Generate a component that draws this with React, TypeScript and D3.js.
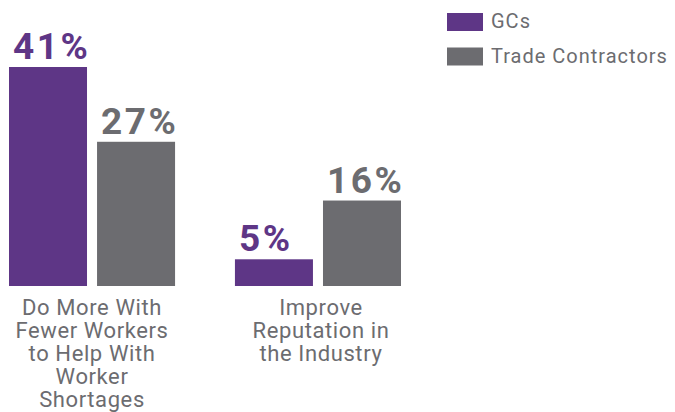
import * as React from 'react';
import * as d3 from 'd3';

const categories = ['workers', 'reputation'];
const categoryLines = [
  ['Do More With', 'Fewer Workers', 'to Help With', 'Worker', 'Shortages'],
  ['Improve', 'Reputation in', 'the Industry']
];
const seriesNames = ['GCs', 'Trade Contractors'];
const gcValues = [41, 5];
const tradeValues = [27, 16];

const colors = ['#5e3686', '#6c6c70'];
const textGray = '#6c6c70';
const font = 'Roboto, "Open Sans", sans-serif';

export default function App() {
  const width = 675;
  const height = 412;
  const x0 = d3.scaleBand<string>().domain(categories).range([9, 401]).paddingInner(0.265).paddingOuter(0);
  const x1 = d3.scaleBand<string>().domain(seriesNames).range([0, x0.bandwidth()]).paddingInner(0.114).paddingOuter(0);
  const y = d3.scaleLinear().domain([0, 41]).range([286, 67]);
  const values = [gcValues, tradeValues];

  return (
    <svg width={width} height={height} style={{ position: 'absolute', left: 0, top: 0, display: 'block' }}>
      {categories.map((c, ci) => (
        <g key={c} transform={`translate(${x0(c)},0)`}>
          {seriesNames.map((s, si) => {
            const v = values[si][ci];
            const bx = x1(s) as number;
            return (
              <g key={s}>
                <rect x={bx} y={y(v)} width={x1.bandwidth()} height={y(0) - y(v)} fill={colors[si]} />
                <text
                  x={bx + 4}
                  y={y(v) - 8}
                  fill={colors[si]}
                  fontFamily={font}
                  fontWeight={700}
                  fontSize={37}
                  letterSpacing={2.5}
                >
                  {v}%
                </text>
              </g>
            );
          })}
          {categoryLines[ci].map((line, li) => (
            <text
              key={li}
              x={x0.bandwidth() / 2 + (ci === 1 ? 3 : 0)}
              y={315 + li * 23}
              textAnchor="middle"
              fill={textGray}
              fontFamily={font}
              fontSize={22}
              letterSpacing={0.6}
            >
              {line}
            </text>
          ))}
        </g>
      ))}
      {seriesNames.map((s, si) => (
        <g key={s} transform={`translate(447,${13 + si * 34.5})`}>
          <rect width={36} height={18} fill={colors[si]} />
          <text x={44} y={15} fill={textGray} fontFamily={font} fontSize={20} letterSpacing={1}>
            {s}
          </text>
        </g>
      ))}
    </svg>
  );
}
